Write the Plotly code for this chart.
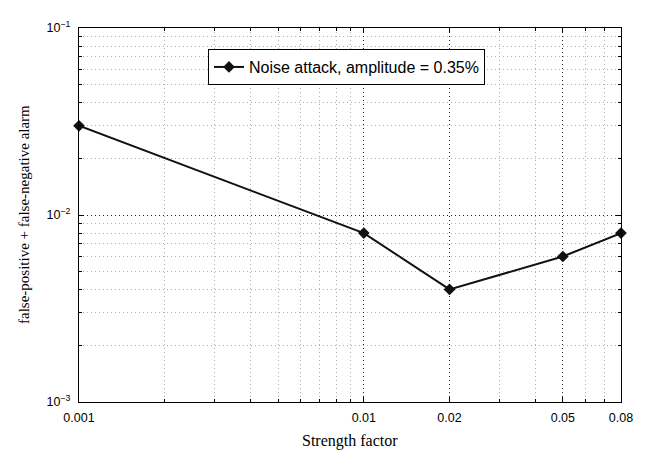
import plotly.graph_objects as go

strength = [0.001, 0.01, 0.02, 0.05, 0.08]
alarm = [0.03, 0.008, 0.004, 0.006, 0.008]
series_name = "Noise attack, amplitude = 0.35%"

x_ticks = [0.001, 0.01, 0.02, 0.05, 0.08]
x_ticktext = ["0.001", "0.01", "0.02", "0.05", "0.08"]
x_minor = [0.002, 0.003, 0.004, 0.005, 0.006, 0.007, 0.008, 0.009, 0.03, 0.04, 0.06, 0.07]
y_ticks = [0.001, 0.01, 0.1]
y_ticktext = ["10<sup>−3</sup>", "10<sup>−2</sup>", "10<sup>−1</sup>"]
y_minor = [m * d for d in (0.001, 0.01) for m in range(2, 10)]

x_title = "Strength factor"
y_title = "false-positive + false-negative alarm"

fig = go.Figure()
fig.add_trace(go.Scatter(
    x=strength, y=alarm, mode="lines+markers", name=series_name,
    line=dict(color="#111111", width=2),
    marker=dict(symbol="diamond", size=9, color="#111111"),
    cliponaxis=False,
))

axis_common = dict(
    showline=True, linecolor="black", linewidth=1.3, mirror="allticks",
    ticks="inside", ticklen=5, tickcolor="black",
    showgrid=True, gridcolor="#222222", griddash="1px,3px", gridwidth=1,
    zeroline=False,
    tickfont=dict(family="Liberation Sans, Arial", size=12.5, color="black"),
)
minor_common = dict(showgrid=True, gridcolor="#b0b0b0", griddash="1px,3px",
                    ticks="inside", ticklen=3, tickcolor="black")

fig.update_xaxes(
    type="log", range=[-3, -1.09691],
    tickvals=x_ticks, ticktext=x_ticktext,
    minor=dict(tickvals=x_minor, **minor_common),
    ticklabelstandoff=4,
    **axis_common,
)
fig.update_yaxes(
    type="log", range=[-3, -1],
    tickvals=y_ticks, ticktext=y_ticktext,
    minor=dict(tickvals=y_minor, **minor_common),
    ticklabelstandoff=5,
    **axis_common,
)

serif = dict(family="Liberation Serif, Times New Roman", size=16, color="black")
fig.add_annotation(text=x_title, xref="paper", yref="paper", x=0.5, y=0,
                   xanchor="center", yanchor="middle", yshift=-39,
                   showarrow=False, font=serif)
fig.add_annotation(text=y_title, xref="paper", yref="paper", x=0, y=0.5,
                   xanchor="center", yanchor="middle", xshift=-55, textangle=-90,
                   showarrow=False, font=dict(serif, size=15))

fig.update_layout(
    width=640, height=446,
    margin=dict(l=71, r=27, t=11, b=52),
    paper_bgcolor="white", plot_bgcolor="white",
    showlegend=True,
    legend=dict(x=0.238, y=0.8956, xanchor="left", yanchor="middle",
                bgcolor="white", bordercolor="black", borderwidth=1,
                font=dict(family="Liberation Sans, Arial", size=16, color="black"),
                itemwidth=30),
)

fig.write_html("out.html")
